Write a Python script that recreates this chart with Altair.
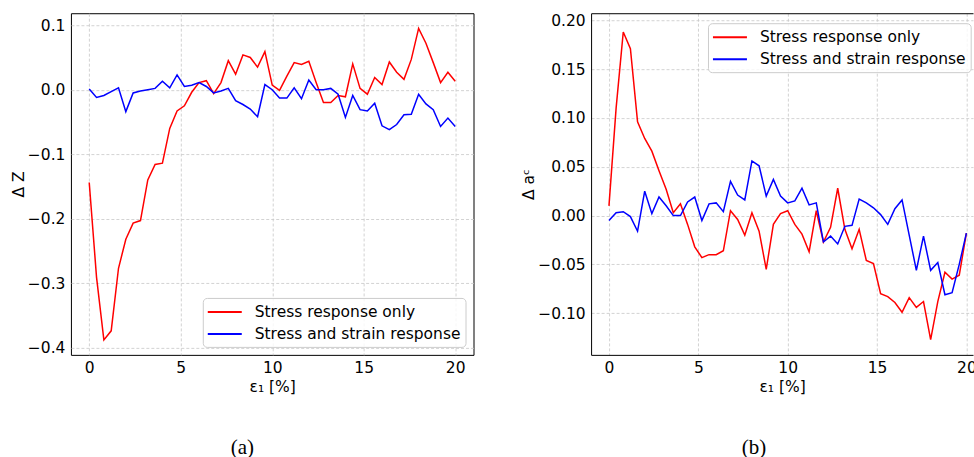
import altair as alt
import pandas as pd

# Axial strain steps (percent)
strain = [0.0, 0.4, 0.8, 1.2, 1.6, 2.0, 2.4, 2.8, 3.2, 3.6, 4.0, 4.4, 4.8, 5.2, 5.6,
          6.0, 6.4, 6.8, 7.2, 7.6, 8.0, 8.4, 8.8, 9.2, 9.6, 10.0, 10.4, 10.8, 11.2,
          11.6, 12.0, 12.4, 12.8, 13.2, 13.6, 14.0, 14.4, 14.8, 15.2, 15.6, 16.0,
          16.4, 16.8, 17.2, 17.6, 18.0, 18.4, 18.8, 19.2, 19.6, 20.0]

series_names = ["Stress response only", "Stress and strain response"]
series_colors = ["#ff0000", "#0000ff"]

# (a) change of coordination number Z
dz_stress = [-0.144, -0.291, -0.388, -0.374, -0.277, -0.232, -0.207, -0.203, -0.140,
             -0.116, -0.114, -0.060, -0.033, -0.025, -0.004, 0.011, 0.014, -0.006,
             0.011, 0.045, 0.024, 0.054, 0.050, 0.035, 0.059, 0.007, -0.001, 0.021,
             0.042, 0.039, 0.044, 0.011, -0.020, -0.020, -0.009, -0.011, 0.040, 0.002,
             -0.007, 0.019, 0.008, 0.043, 0.027, 0.016, 0.047, 0.095, 0.072, 0.042,
             0.011, 0.027, 0.013]
dz_both = [0.001, -0.012, -0.009, -0.003, 0.003, -0.034, -0.005, -0.002, 0.000, 0.002,
           0.013, 0.003, 0.023, 0.005, 0.007, 0.011, 0.005, -0.005, -0.002, 0.002,
           -0.017, -0.023, -0.030, -0.042, 0.008, 0.000, -0.013, -0.013, 0.003, -0.014,
           0.015, 0.000, 0.000, 0.002, -0.007, -0.043, -0.009, -0.031, -0.033, -0.021,
           -0.056, -0.062, -0.054, -0.039, -0.038, -0.007, -0.022, -0.031, -0.057,
           -0.044, -0.057]

# (b) change of contact anisotropy a^c
dac_stress = [0.010, 0.110, 0.188, 0.171, 0.096, 0.079, 0.066, 0.046, 0.027, 0.003,
              0.012, -0.009, -0.032, -0.043, -0.040, -0.040, -0.036, 0.005, -0.004,
              -0.020, 0.003, -0.016, -0.055, -0.009, 0.002, 0.005, -0.009, -0.019,
              -0.037, 0.005, -0.027, -0.012, 0.028, -0.014, -0.034, -0.014, -0.046,
              -0.049, -0.080, -0.083, -0.089, -0.099, -0.084, -0.094, -0.088, -0.127,
              -0.088, -0.058, -0.065, -0.061, -0.018]
dac_both = [-0.005, 0.003, 0.004, -0.001, -0.016, 0.025, 0.002, 0.019, 0.010, 0.000,
            0.000, 0.014, 0.019, -0.005, 0.012, 0.013, 0.004, 0.035, 0.021, 0.016,
            0.056, 0.051, 0.020, 0.037, 0.020, 0.013, 0.015, 0.028, 0.011, 0.013,
            -0.027, -0.021, -0.029, -0.011, -0.010, 0.017, 0.013, 0.008, 0.001, -0.009,
            0.007, 0.016, -0.020, -0.056, -0.021, -0.056, -0.048, -0.081, -0.079,
            -0.050, -0.018]

FONT = "DejaVu Sans"
FS = 15.5
PLOT_H = 342


def long_table(stress_only, stress_strain):
    rows = []
    for name, vals in zip(series_names, [stress_only, stress_strain]):
        for e, v in zip(strain, vals):
            rows.append({"strain": e, "value": v, "series": name})
    return pd.DataFrame(rows)


def legend(**placement):
    return alt.Legend(title=None,
                      symbolType="M-1.89,0H1.89", symbolSize=324,
                      symbolStrokeWidth=2, symbolOffset=8,
                      labelOffset=20, padding=4, rowPadding=3,
                      fillColor="rgba(255,255,255,0.8)",
                      strokeColor="#cccccc", cornerRadius=4,
                      labelFont=FONT, labelFontSize=FS,
                      labelColor="#000000", labelLimit=400, **placement)


def x_enc(xdomain, frame_axes):
    return alt.X("strain:Q",
                 scale=alt.Scale(domain=xdomain, nice=False, zero=False),
                 axis=alt.Axis(values=[0, 5, 10, 15, 20], title="ε₁ [%]", format="d",
                               labelPadding=6, titlePadding=3, domain=frame_axes,
                               domainColor="#000000", domainWidth=1))


def y_enc(ytitle, ydomain, yticks, yfmt, frame_axes):
    return alt.Y("value:Q",
                 scale=alt.Scale(domain=ydomain, nice=False, zero=False),
                 axis=alt.Axis(values=yticks, format=yfmt, title=ytitle,
                               labelPadding=6, titlePadding=1, domain=frame_axes,
                               domainColor="#000000", domainWidth=1))


def lines(df, x, y, leg):
    return alt.Chart(df).mark_line(strokeWidth=1.5, clip=True).encode(
        x=x, y=y,
        color=alt.Color("series:N",
                        scale=alt.Scale(domain=series_names, range=series_colors),
                        legend=leg),
    )


def caption(text, dx):
    return alt.TitleParams(text, orient="bottom", frame="bounds", anchor="middle",
                           font="Liberation Serif", fontSize=21, fontWeight="normal",
                           color="#000000", offset=42, dx=dx)


df_a = long_table(dz_stress, dz_both)
df_b = long_table(dac_stress, dac_both)

# (a): complete box frame around the plot area
chart_a = lines(
    df_a,
    x_enc([-1, 21], False),
    y_enc("Δ Z", [-0.4113, 0.1186], [-0.4, -0.3, -0.2, -0.1, 0.0, 0.1], ".1f", False),
    legend(orient="bottom-right", offset=8),
).properties(
    width=403, height=PLOT_H, title=caption("(a)", 0),
    view=alt.ViewBackground(stroke="#000000", strokeWidth=1),
)

# (b): the plot area runs into the right page edge, so only left, bottom
# and top edges carry a frame line
XB = [-1, 20.37]
yb = y_enc("Δ aᶜ", [-0.1426, 0.2072],
           [-0.10, -0.05, 0.0, 0.05, 0.10, 0.15, 0.20], ".2f", True)
b_lines = lines(df_b, x_enc(XB, True), yb,
                legend(orient="none", legendX=117, legendY=10))
b_top = alt.Chart(df_b).mark_line(opacity=0).encode(
    x=alt.X("strain:Q", scale=alt.Scale(domain=XB, nice=False, zero=False),
            axis=alt.Axis(orient="top", labels=False, title=None, grid=False,
                          domain=True, domainColor="#000000", domainWidth=1)),
    y=yb,
)
chart_b = alt.layer(b_lines, b_top).resolve_axis(x="independent").properties(
    width=382.3, height=PLOT_H, title=caption("(b)", 5),
    view=alt.ViewBackground(stroke="transparent", strokeWidth=0),
)

chart = alt.hconcat(chart_a, chart_b, spacing=46.7).resolve_legend(
    color="independent"
).properties(
    padding={"left": 10, "top": 12, "right": -3, "bottom": 3}
).configure_axis(
    domain=False, ticks=False, grid=True,
    gridColor="#c8c8c8", gridDash=[3, 2], gridWidth=0.8,
    labelFont=FONT, labelFontSize=FS, labelColor="#000000",
    titleFont=FONT, titleFontSize=FS, titleFontWeight="normal", titleColor="#000000",
)

chart.save("out.html", embed_options={"renderer": "svg", "actions": False})
